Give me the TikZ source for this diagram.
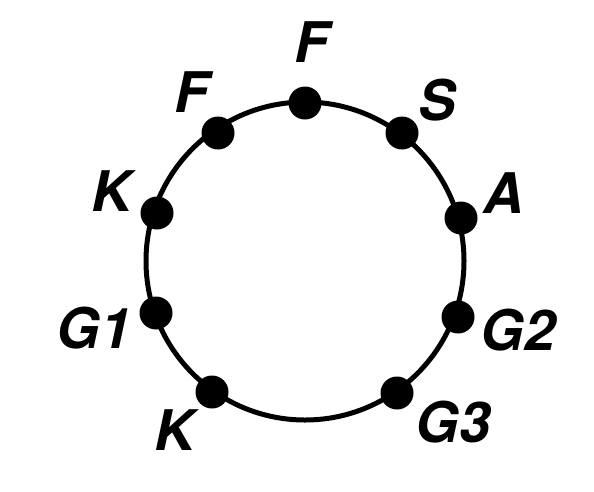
\documentclass[tikz,border=0pt]{standalone}
\usepackage{fontspec}
\newfontfamily\labfont{TeX Gyre Heros}
\begin{document}
\begin{tikzpicture}[x=1pt,y=-1pt,
  dot/.style={circle,fill=black,inner sep=0pt,minimum size=33pt},
  lab/.style={inner sep=0pt,font=\labfont\bfseries\itshape\fontsize{56}{56}\selectfont}]
\useasboundingbox (0,0) rectangle (594,491);
\coordinate (c) at (305,261);
\draw[line width=5pt] (c) circle[radius=159pt];
\node[dot] (d1) at (305,103) {};
\node[dot] (d2) at (218,133) {};
\node[dot] (d3) at (402,133) {};
\node[dot] (d4) at (461,218) {};
\node[dot] (d5) at (458,317) {};
\node[dot] (d6) at (397,393) {};
\node[dot] (d7) at (212,392) {};
\node[dot] (d8) at (156,313) {};
\node[dot] (d9) at (157,213) {};
\node[lab] (l1) at (312,42) {F};
\node[lab] (l2) at (192,92) {F};
\node[lab] (l3) at (437,100) {S};
\node[lab] (l4) at (504,193) {A};
\node[lab] (l5) at (518,330) {G2};
\node[lab] (l6) at (453,422) {G3};
\node[lab] (l7) at (175,430) {K};
\node[lab] (l8) at (94,328) {G1};
\node[lab] (l9) at (112,191) {K};
\end{tikzpicture}
\end{document}
